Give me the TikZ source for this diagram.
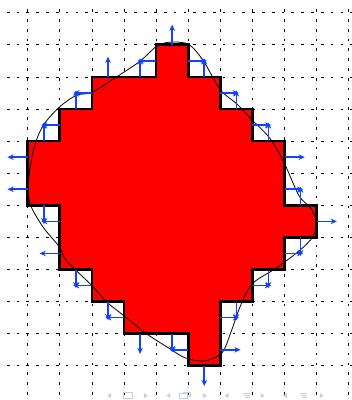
\documentclass[tikz,border=0pt]{standalone}
\usepackage{tikz}
\usetikzlibrary{arrows.meta}
\definecolor{CellRed}{RGB}{255,0,0}
\definecolor{NormalBlue}{RGB}{20,64,255}
\definecolor{NavGray}{RGB}{200,204,228}

\begin{document}
\begin{tikzpicture}[
    gridline/.style={line width=0.6pt, dash pattern=on 2.4pt off 6.3pt},
    cellset/.style={fill=CellRed, line width=2.4pt, line join=miter},
    interface/.style={line width=0.7pt},
    normalvec/.style={-{Stealth[length=5.5pt,width=5pt]}, line width=1.4pt, NormalBlue},
    navsym/.style={NavGray, line width=0.7pt}
  ]
        \useasboundingbox (-0.863,-1.065) rectangle (10.072,11.396);
        \draw[gridline] (-0.65,-0.9) grid (10.5,11.25);
        % staircase approximation of the domain
        \filldraw[cellset] (4,10) -- (5,10) -- (5,9) -- (6,9) -- (6,8) -- (7,8) -- (7,7) -- (8,7) -- (8,5) -- (9,5)
          -- (9,4) -- (8,4) -- (8,3) -- (7,3) -- (7,2) -- (6,2) -- (6,0) -- (5,0) -- (5,1) -- (3,1) -- (3,2)
          -- (2,2) -- (2,3) -- (1,3) -- (1,5) -- (0,5) -- (0,7) -- (1,7) -- (1,8) -- (2,8) -- (2,9) -- (4,9) -- cycle;
        % smooth interface
        \draw[interface] plot[smooth cycle, tension=0.5] coordinates {
          (4.4,10.08) (5.0,10.02) (5.46,9.52) (6.0,8.6) (6.5,8.17) (7.0,7.65) (7.55,7.08) (8.0,6.3)
          (8.45,5.3) (8.8,4.93) (9.0,4.5) (8.88,4.02) (8.48,3.6) (7.75,3.05) (7.0,2.56) (6.62,1.85)
          (6.35,1.1) (6.05,0.4) (5.5,0.15) (4.9,0.25) (4.43,0.53) (3.7,1.0) (3.0,1.56) (2.46,1.99)
          (2.0,2.5) (1.2,3.28) (1.0,3.69) (0.48,4.32) (0.07,5.06) (0.03,5.8) (0.2,6.8) (0.49,7.5)
          (1.0,8.07) (1.52,8.43) (2.0,8.52) (2.77,9.0) (3.5,9.49) (4.0,9.94)};
        % outward normals on single edges
        \foreach \x/\y/\dx/\dy in {4.5/10/0/1, 2.5/9/0/1, 8/6.5/1/0, 9/4.5/1/0, 6/0.5/1/0,
            5.5/0/0/-1, 3.5/1/0/-1, 1/3.5/-1/0, 0/5.5/-1/0, 0/6.5/-1/0}
          \draw[normalvec] (\x,\y) -- ++(0.63*\dx,0.63*\dy);
        % pairs of normals meeting in a corner cell
        \foreach \cx/\cy/\sx/\sy in {5.5/9.5/1/1, 6.5/8.5/1/1, 7.5/7.5/1/1, 8.5/5.5/1/1, 8.5/3.5/1/-1,
            7.5/2.5/1/-1, 6.5/1.5/1/-1, 4.5/0.5/-1/-1, 2.5/1.5/-1/-1, 1.5/2.5/-1/-1, 0.5/4.5/-1/-1,
            0.5/7.5/-1/1, 1.5/8.5/-1/1, 3.5/9.5/-1/1} {
          \draw[normalvec] ({\cx-0.5*(\sx)},\cy) -- ++({0.58*(\sx)},0);
          \draw[normalvec] (\cx,{\cy-0.5*(\sy)}) -- ++(0,{0.58*(\sy)});
        }
        % navigation symbols
        \foreach \x in {2.54,4.38,6.20,8.02}
          \fill[NavGray] (\x-0.06,-0.93) -- (\x+0.06,-0.85) -- (\x+0.06,-1.01) -- cycle;
        \foreach \x in {3.68,5.52,7.32,9.16}
          \fill[NavGray] (\x+0.06,-0.93) -- (\x-0.06,-0.85) -- (\x-0.06,-1.01) -- cycle;
        \draw[navsym] (2.99,-1.0) rectangle (3.25,-0.84);
        \draw[navsym] (4.72,-1.0) rectangle (4.98,-0.87);
        \draw[navsym] (4.98,-0.96) -- (5.06,-0.96) -- (5.06,-0.82) -- (4.84,-0.82) -- (4.84,-0.87);
        \foreach \x in {6.82,8.59}
          \foreach \dy in {0,0.06,0.12}
            \draw[navsym] (\x-0.12+\dy/2,-0.86-\dy) -- (\x+0.12,-0.86-\dy);
\end{tikzpicture}
\end{document}
